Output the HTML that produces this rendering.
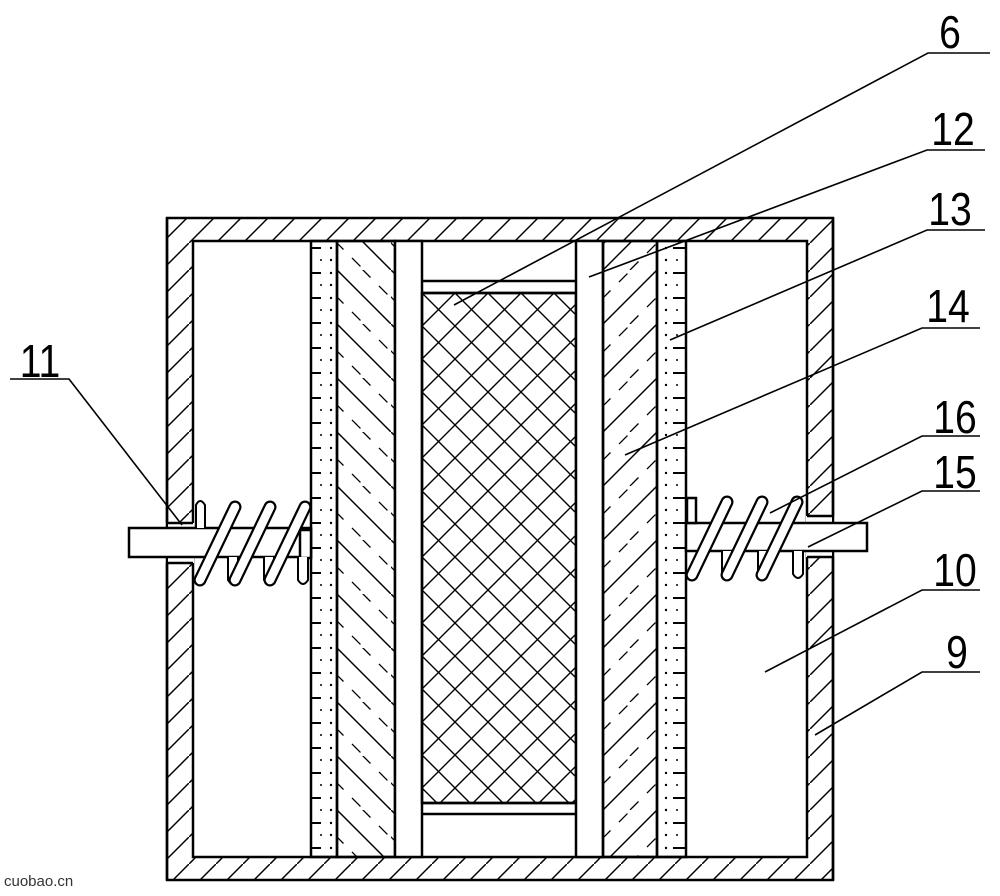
<!DOCTYPE html>
<html><head><meta charset="utf-8"><style>html,body{margin:0;padding:0;background:#fff}svg{display:block}</style></head>
<body>
<svg width="1000" height="896" viewBox="0 0 1000 896" xmlns="http://www.w3.org/2000/svg">
<defs>
<pattern id="wall" width="27" height="27" patternUnits="userSpaceOnUse">
<path d="M-2 29 L29 -2" stroke="#000" stroke-width="1.5"/>
</pattern>
<pattern id="bk" width="54" height="54" patternUnits="userSpaceOnUse" patternTransform="translate(337,0)">
<path d="M-2 -2 L56 56" stroke="#000" stroke-width="1.5"/>
<path d="M25 -1 L55 29 M-2 25 L27 54" stroke="#000" stroke-width="1.3" stroke-dasharray="12 12"/>
</pattern>
<pattern id="fw" width="54" height="54" patternUnits="userSpaceOnUse" patternTransform="translate(603,0)">
<path d="M-2 56 L56 -2" stroke="#000" stroke-width="1.5"/>
<path d="M-1 29 L29 -1 M27 54 L55 26" stroke="#000" stroke-width="1.3" stroke-dasharray="12 12"/>
</pattern>
<pattern id="cross" width="33" height="33" patternUnits="userSpaceOnUse" patternTransform="translate(422,293)">
<path d="M0 0 L33 33 M33 0 L0 33" stroke="#000" stroke-width="1.4"/>
</pattern>
<pattern id="dl" width="26" height="25" patternUnits="userSpaceOnUse" patternTransform="translate(311,244)">
<path d="M0 4 L10 4" stroke="#000" stroke-width="2"/>
<circle cx="20" cy="4" r="1.2"/><circle cx="20" cy="16" r="1.2"/><circle cx="10" cy="16" r="1"/>
</pattern>
<pattern id="dr" width="29" height="25" patternUnits="userSpaceOnUse" patternTransform="translate(657,244)">
<path d="M16 4 L29 4" stroke="#000" stroke-width="2"/>
<circle cx="9" cy="4" r="1.2"/><circle cx="9" cy="16" r="1.2"/><circle cx="20" cy="16" r="1"/>
</pattern>
</defs>
<g stroke="#000" stroke-width="2.5" fill="none">
<path d="M167 218 H833 V880 H167 Z" fill="url(#wall)"/>
<rect x="193" y="241" width="614" height="616" fill="#fff"/>
<rect x="168" y="523" width="26" height="40" fill="#fff" stroke="none"/>
<rect x="806" y="516" width="26" height="41" fill="#fff" stroke="none"/>
<path d="M167 523 H193 M167 563 H193 M807 516 H833 M807 557 H833"/>
<path d="M167 218 V523 M167 563 V880 M833 218 V516 M833 557 V880"/>
<rect x="311" y="241" width="26" height="616" fill="url(#dl)"/>
<rect x="337" y="241" width="58" height="616" fill="url(#bk)"/>
<rect x="395" y="241" width="27" height="616" fill="#fff"/>
<rect x="422" y="293" width="154" height="510" fill="url(#cross)"/>
<path d="M422 281 H576 M422 293 H576 M422 803 H576 M422 814 H576"/>
<rect x="576" y="241" width="27" height="616" fill="#fff"/>
<rect x="603" y="241" width="54" height="616" fill="url(#fw)"/>
<rect x="657" y="241" width="29" height="616" fill="url(#dr)"/>
<rect x="129" y="528" width="182" height="29" fill="#fff"/>
<rect x="686" y="523" width="181" height="28" fill="#fff"/>
<rect x="300" y="530" width="11" height="28" fill="#fff"/>
<rect x="687" y="498" width="9" height="25" fill="#fff"/>
</g>
<g stroke="#000" stroke-width="2" fill="#fff">
<path d="M196 528 V505 Q200 497 205 505 V528"/>
<path d="M228 557 V580 Q233 588 238 580 V557"/>
<path d="M264 557 V580 Q269 588 274 580 V557"/>
<path d="M298 557 V580 Q303 588 308 580 V557"/>
<path d="M722 551 V574 Q727 582 732 574 V551"/>
<path d="M758 551 V574 Q763 582 768 574 V551"/>
<path d="M793 551 V574 Q798 582 803 574 V551"/>
</g>
<g stroke-linecap="round" fill="none">
<g stroke="#000" stroke-width="13">
<path d="M200 580 L235 507 M235 580 L270 507 M270 580 L305 507"/>
<path d="M692 575 L727 502 M727 575 L762 502 M762 575 L797 502"/>
</g>
<g stroke="#fff" stroke-width="8.5">
<path d="M200 580 L235 507 M235 580 L270 507 M270 580 L305 507"/>
<path d="M692 575 L727 502 M727 575 L762 502 M762 575 L797 502"/>
</g>
</g>
<g stroke="#000" stroke-width="1.6" fill="none">
<path d="M990 53 H928 L454 305"/>
<path d="M985 150 H927 L589 277"/>
<path d="M985 230 H927 L670 340"/>
<path d="M980 328 H922 L625 455"/>
<path d="M980 436 H922 L770 513"/>
<path d="M980 491 H922 L808 547"/>
<path d="M980 590 H922 L765 672"/>
<path d="M980 672 H922 L815 735"/>
<path d="M10 379 H69 L182 525"/>
</g>
<g font-family="Liberation Sans, sans-serif" font-size="46" text-anchor="middle" fill="#000">
<text x="950" y="48" transform="translate(950 0) scale(0.85 1) translate(-950 0)">6</text>
<text x="953" y="145" transform="translate(953 0) scale(0.85 1) translate(-953 0)">12</text>
<text x="950" y="225" transform="translate(950 0) scale(0.85 1) translate(-950 0)">13</text>
<text x="948" y="322" transform="translate(948 0) scale(0.85 1) translate(-948 0)">14</text>
<text x="955" y="433" transform="translate(955 0) scale(0.85 1) translate(-955 0)">16</text>
<text x="955" y="488" transform="translate(955 0) scale(0.85 1) translate(-955 0)">15</text>
<text x="955" y="586" transform="translate(955 0) scale(0.85 1) translate(-955 0)">10</text>
<text x="957" y="668" transform="translate(957 0) scale(0.85 1) translate(-957 0)">9</text>
<text x="40" y="377" transform="translate(40 0) scale(0.85 1) translate(-40 0)">11</text>
</g>
<text x="4" y="886" font-family="Liberation Sans, sans-serif" font-size="15" fill="#333">cuobao.cn</text>
</svg>
</body></html>
